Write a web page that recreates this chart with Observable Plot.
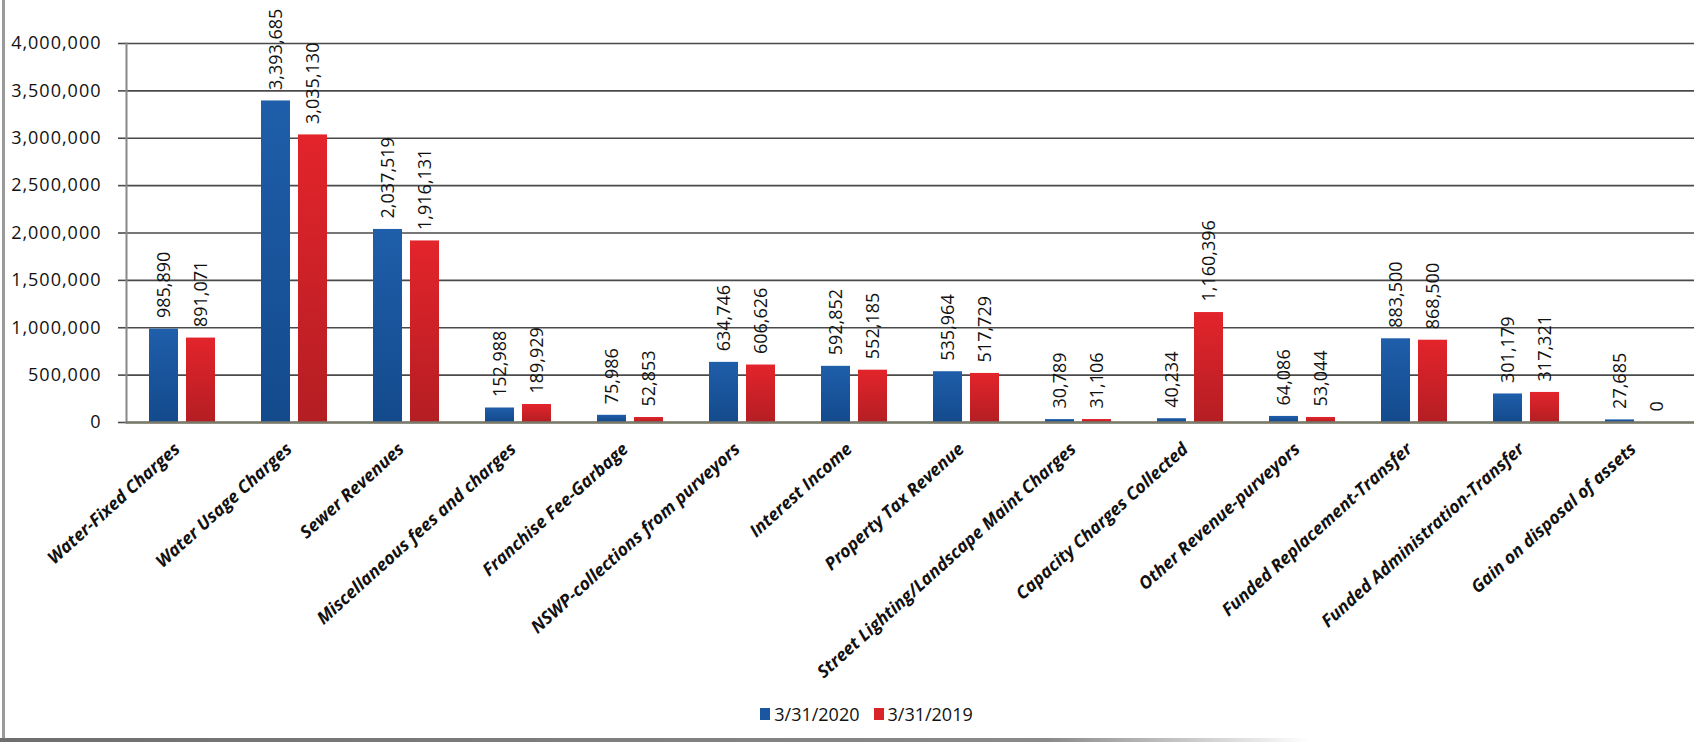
<!DOCTYPE html>
<html>
<head>
<meta charset="utf-8">
<script src="https://cdn.jsdelivr.net/npm/d3@7"></script>
<script src="https://cdn.jsdelivr.net/npm/@observablehq/plot@0.6"></script>
<style>
  html, body { margin: 0; padding: 0; background: #fff; }
  #wrap { position: relative; width: 1706px; height: 747px; overflow: hidden; font-family: "Open Sans", sans-serif; }
  #chart svg { display: block; }
  #legend { height: 44px; line-height: 44px; display: flex; justify-content: center; padding-left: 27px; font-size: 18px; color: #111; }
  #legend .item { display: flex; align-items: center; margin: 0 7px; }
  #legend .sw { width: 10px; height: 12px; margin-right: 4px; display: inline-block; }
  #leftline { position: absolute; left: 2px; top: 0; width: 3px; height: 742px; background: #9a9a9a; }
  #bottomline { position: absolute; left: 0; top: 738px; width: 1310px; height: 4px; background: linear-gradient(to right, #6e6e6e, #8a8a8a 80%, rgba(160,160,160,0)); }
  .yax text { letter-spacing: 1px; }
</style>
</head>
<body>
<div id="wrap">
  <div id="chart"></div>
  <div id="legend"></div>
  <div id="leftline"></div>
  <div id="bottomline"></div>
</div>
<script>
const categories = [
  "Water-Fixed Charges",
  "Water Usage Charges",
  "Sewer Revenues",
  "Miscellaneous fees and charges",
  "Franchise Fee-Garbage",
  "NSWP-collections from purveyors",
  "Interest Income",
  "Property Tax Revenue",
  "Street Lighting/Landscape Maint Charges",
  "Capacity Charges Collected",
  "Other Revenue-purveyors",
  "Funded Replacement-Transfer",
  "Funded Administration-Transfer",
  "Gain on disposal of assets"
];
const seriesNames = ["3/31/2020", "3/31/2019"];
const values2020 = [985890, 3393685, 2037519, 152988, 75986, 634746, 592852, 535964, 30789, 40234, 64086, 883500, 301179, 27685];
const values2019 = [891071, 3035130, 1916131, 189929, 52853, 606626, 552185, 517729, 31106, 1160396, 53044, 868500, 317321, 0];
const yTicks = [0, 500000, 1000000, 1500000, 2000000, 2500000, 3000000, 3500000, 4000000];
const seriesColors = ["#1b56a0", "#d8232a"];
const gradientFills = ["url(#gradBlue)", "url(#gradRed)"];

const rows = [];
categories.forEach((c, i) => {
  rows.push({category: c, series: seriesNames[0], value: values2020[i]});
  rows.push({category: c, series: seriesNames[1], value: values2019[i]});
});
const fmt = d3.format(",");

const plot = Plot.plot({
  width: 1706,
  height: 692,
  marginLeft: 121,
  marginRight: 7,
  marginTop: 43,
  marginBottom: 270,
  style: { fontFamily: "Open Sans, sans-serif", background: "#fff" },
  fx: { domain: categories, padding: 0, label: null },
  x: { domain: seriesNames, paddingInner: 0.21, paddingOuter: 0.59, axis: null },
  y: { domain: [0, 4000000], ticks: yTicks, label: null },
  color: { domain: seriesNames, range: gradientFills },
  marks: [
    Plot.gridY(yTicks, { stroke: "#4a4a4a", strokeOpacity: 1, strokeWidth: 1.6 }),
    Plot.axisY(yTicks, {
      tickFormat: fmt, tickSize: 8, tickPadding: 17, fontSize: 18,
      stroke: "#4a4a4a", strokeWidth: 1.6, fill: "#111", label: null,
      className: "yax"
    }),
    Plot.frame({ anchor: "left", facet: "super", stroke: "#888", strokeWidth: 2 }),
    Plot.barY(rows, { fx: "category", x: "series", y: "value", fill: "series" }),
    Plot.ruleY([0], { stroke: "#7a7a6a", strokeWidth: 2.5 }),
    Plot.text(rows, {
      fx: "category", x: "series", y: "value",
      text: d => fmt(d.value), rotate: -90, textAnchor: "start",
      dy: -11, fontSize: 18, fill: "#111"
    }),
    Plot.axisFx({
      anchor: "bottom", tickRotate: -42, tickSize: 0, tickPadding: 24, dx: -5,
      fontSize: 17.5, fontWeight: "bold", fontStyle: "italic", fill: "#111", label: null
    })
  ]
});

const defs = `<defs>
  <linearGradient id="gradBlue" x1="0" y1="0" x2="0" y2="1">
    <stop offset="0" stop-color="#1f5eaa"/>
    <stop offset="1" stop-color="#134a8c"/>
  </linearGradient>
  <linearGradient id="gradRed" x1="0" y1="0" x2="0" y2="1">
    <stop offset="0" stop-color="#e3242b"/>
    <stop offset="1" stop-color="#b41e23"/>
  </linearGradient>
</defs>`;
plot.insertAdjacentHTML("afterbegin", defs);
document.getElementById("chart").appendChild(plot);

const legend = document.getElementById("legend");
seriesNames.forEach((s, i) => {
  const item = document.createElement("span");
  item.className = "item";
  const sw = document.createElement("span");
  sw.className = "sw";
  sw.style.background = seriesColors[i];
  item.appendChild(sw);
  item.appendChild(document.createTextNode(s));
  legend.appendChild(item);
});
</script>
</body>
</html>
